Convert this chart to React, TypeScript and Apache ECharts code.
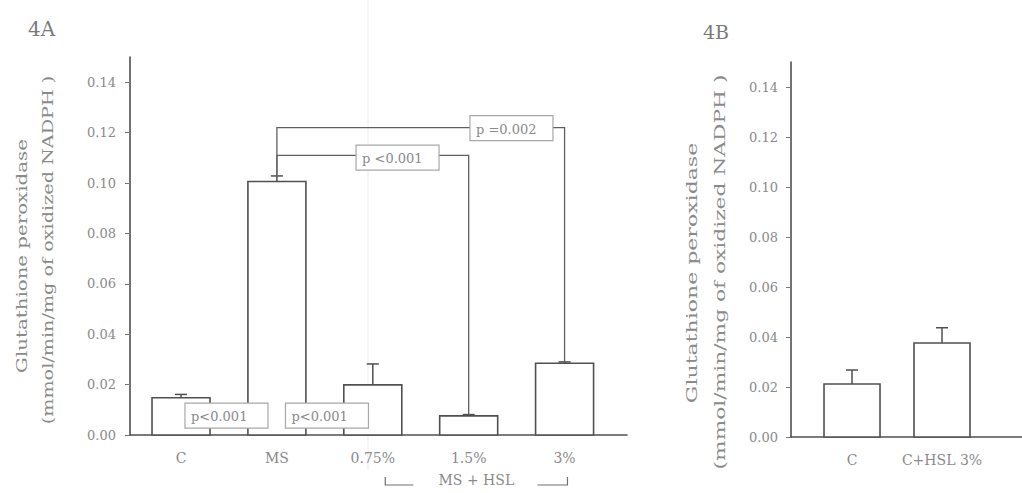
import { useEffect, useRef } from "react";
import * as echarts from "echarts";

// ---------- data ----------
const categoriesA = ["C", "MS", "0.75%", "1.5%", "3%"];
const meansA = [0.0148, 0.1006, 0.0199, 0.0076, 0.0285];
const errorsA = [0.0013, 0.0022, 0.0083, 0.0005, 0.0005];

const categoriesB = ["C", "C+HSL 3%"];
const meansB = [0.0212, 0.0376];
const errorsB = [0.0056, 0.0061];

const yTicks = [0, 0.02, 0.04, 0.06, 0.08, 0.1, 0.12, 0.14];
const yMax = 0.15;

const groupLabel = "MS + HSL";
const groupSpan = [2.13, 4.03];

// significance brackets (category index from -> to, bracket level)
const bracketFrom = [1, 1];
const bracketTo = [4, 3];
const bracketLevel = [0.122, 0.111];

// p-value boxes (centre in data space)
const pTexts = ["p =0.002", "p <0.001", "p<0.001", "p<0.001"];
const pX = [3.446, 2.258, 0.474, 1.522];
const pY = [0.1218, 0.1101, 0.0077, 0.0077];

const yName1 = "Glutathione peroxidase";
const yName2 = "(mmol/min/mg of oxidized NADPH )";

// ---------- style ----------
const FONT = "DejaVu Serif";
const LINE = "#505050";
const TEXT = "#8a8a8a";

function barRender(width: number) {
  return (_p: any, api: any) => {
    const x = api.value(0);
    const v = api.value(1);
    const e = api.value(2);
    const base = api.coord([x, 0]);
    const top = api.coord([x, v]);
    const et = api.coord([x, v + e]);
    const cap = 12;
    return {
      type: "group",
      children: [
        {
          type: "rect",
          shape: { x: base[0] - width / 2, y: top[1], width, height: base[1] - top[1] },
          style: { fill: "#ffffff", stroke: LINE, lineWidth: 1.6 },
        },
        {
          type: "line",
          shape: { x1: top[0], y1: top[1], x2: et[0], y2: et[1] },
          style: { stroke: LINE, lineWidth: 1.5 },
        },
        {
          type: "line",
          shape: { x1: et[0] - cap / 2, y1: et[1], x2: et[0] + cap / 2, y2: et[1] },
          style: { stroke: LINE, lineWidth: 1.5 },
        },
      ],
    };
  };
}

function yAxisCommon(gridIndex: number, margin: number) {
  return {
    type: "value" as const,
    gridIndex,
    min: 0,
    max: yMax,
    axisLine: { show: true, onZero: false, lineStyle: { color: LINE, width: 1.6 } },
    axisTick: { show: true, length: 5, customValues: yTicks, lineStyle: { color: "#777", width: 1 } },
    axisLabel: {
      customValues: yTicks,
      formatter: (v: number) => v.toFixed(2),
      color: TEXT,
      fontFamily: FONT,
      fontSize: 13,
      margin,
    },
    splitLine: { show: false },
  };
}

function xAxisCommon(gridIndex: number, min: number, max: number, cats: string[]) {
  return {
    type: "value" as const,
    gridIndex,
    min,
    max,
    axisLine: { show: true, onZero: false, lineStyle: { color: LINE, width: 1.6 } },
    axisTick: { show: false },
    splitLine: { show: false },
    axisLabel: {
      customValues: cats.map((_, i) => i),
      formatter: (v: number) => cats[Math.round(v)] ?? "",
      color: TEXT,
      fontFamily: FONT,
      fontSize: 14,
      margin: 16,
    },
  };
}

function rotatedLabel(text: string, x: number, y: number, scale: number) {
  return {
    type: "text",
    x,
    y,
    rotation: Math.PI / 2,
    scaleX: scale,
    style: {
      text,
      fill: TEXT,
      font: `15px "${FONT}"`,
      textAlign: "center",
      textVerticalAlign: "middle",
      align: "center",
      verticalAlign: "middle",
    },
  };
}

export default function App() {
  const ref = useRef<HTMLDivElement>(null);

  useEffect(() => {
    document.body.style.margin = "0";
    const chart = echarts.init(ref.current!, undefined, { renderer: "svg" });

    const option: any = {
      animation: false,
      backgroundColor: "#ffffff",
      grid: [
        { left: 130, top: 57, width: 497, height: 378 },
        { left: 791, top: 62, width: 231, height: 375 },
      ],
      xAxis: [
        xAxisCommon(0, -0.532, 4.651, categoriesA),
        xAxisCommon(1, -0.678, 1.889, categoriesB),
      ],
      yAxis: [yAxisCommon(0, 14), yAxisCommon(1, 13)],
      series: [
        {
          type: "custom",
          name: "Panel A",
          xAxisIndex: 0,
          yAxisIndex: 0,
          z: 2,
          renderItem: barRender(58),
          data: meansA.map((m, i) => [i, m, errorsA[i]]),
        },
        {
          type: "custom",
          name: "Panel B",
          xAxisIndex: 1,
          yAxisIndex: 1,
          z: 2,
          renderItem: barRender(56),
          data: meansB.map((m, i) => [i, m, errorsB[i]]),
        },
        {
          type: "custom",
          name: "Brackets",
          xAxisIndex: 0,
          yAxisIndex: 0,
          z: 3,
          encode: { x: [0, 1], y: [2, 3, 4] },
          renderItem: (_p: any, api: any) => {
            const f = api.value(0);
            const t = api.value(1);
            const lvl = api.value(2);
            const ft = api.value(3);
            const tt = api.value(4);
            const p1 = api.coord([f, ft]);
            const p2 = api.coord([f, lvl]);
            const p3 = api.coord([t, lvl]);
            const p4 = api.coord([t, tt]);
            return {
              type: "polyline",
              shape: { points: [p1, p2, p3, p4] },
              style: { stroke: "#606060", lineWidth: 1.3, fill: "none" },
            };
          },
          data: bracketFrom.map((f, i) => [
            f,
            bracketTo[i],
            bracketLevel[i],
            meansA[f] + errorsA[f],
            meansA[bracketTo[i]] + errorsA[bracketTo[i]],
          ]),
        },
        {
          type: "custom",
          name: "P values",
          xAxisIndex: 0,
          yAxisIndex: 0,
          z: 4,
          renderItem: (params: any, api: any) => {
            const c = api.coord([api.value(0), api.value(1)]);
            const w = 83;
            const h = 25;
            const txt = pTexts[params.dataIndex];
            return {
              type: "group",
              children: [
                {
                  type: "rect",
                  shape: { x: c[0] - w / 2, y: c[1] - h / 2, width: w, height: h },
                  style: { fill: "#ffffff", stroke: "#a8a8a8", lineWidth: 1.2 },
                },
                {
                  type: "text",
                  x: c[0] - w / 2 + 6,
                  y: c[1] + 1,
                  style: {
                    text: txt,
                    fill: TEXT,
                    font: `13px "${FONT}"`,
                    align: "left",
                    verticalAlign: "middle",
                    textAlign: "left",
                    textVerticalAlign: "middle",
                  },
                },
              ],
            };
          },
          data: pX.map((x, i) => [x, pY[i]]),
        },
        {
          type: "custom",
          name: "Group",
          xAxisIndex: 0,
          yAxisIndex: 0,
          z: 3,
          encode: { x: [0, 1], y: 2 },
          renderItem: (_p: any, api: any) => {
            const a = api.coord([api.value(0), 0]);
            const b = api.coord([api.value(1), 0]);
            const y0 = a[1] + 42;
            const y1 = a[1] + 50;
            const mid = (a[0] + b[0]) / 2;
            return {
              type: "group",
              children: [
                {
                  type: "polyline",
                  shape: { points: [[a[0], y0], [a[0], y1], [a[0] + 28, y1]] },
                  style: { stroke: "#707070", lineWidth: 1.2, fill: "none" },
                },
                {
                  type: "polyline",
                  shape: { points: [[b[0] - 30, y1], [b[0], y1], [b[0], y0]] },
                  style: { stroke: "#707070", lineWidth: 1.2, fill: "none" },
                },
                {
                  type: "text",
                  x: mid,
                  y: a[1] + 45,
                  style: {
                    text: groupLabel,
                    fill: TEXT,
                    font: `14px "${FONT}"`,
                    align: "center",
                    verticalAlign: "middle",
                    textAlign: "center",
                    textVerticalAlign: "middle",
                  },
                },
              ],
            };
          },
          data: [[groupSpan[0], groupSpan[1], 0]],
        },
      ],
      graphic: [
        {
          type: "line",
          z: 0,
          silent: true,
          shape: { x1: 368, y1: 0, x2: 368, y2: 470 },
          style: { stroke: "#ececec", lineWidth: 1 },
        },
        {
          type: "text",
          left: 28,
          top: 19,
          style: { text: "4A", fill: "#7a7a7a", font: `20px "${FONT}"` },
        },
        {
          type: "text",
          left: 703,
          top: 22,
          style: { text: "4B", fill: "#7a7a7a", font: `19px "${FONT}"` },
        },
        rotatedLabel(yName1, 22, 256, 1.32),
        rotatedLabel(yName2, 48, 250, 1.28),
        rotatedLabel(yName1, 692, 273, 1.47),
        rotatedLabel(yName2, 720, 272, 1.45),
      ],
    };

    chart.setOption(option);
    return () => chart.dispose();
  }, []);

  return (
    <div
      ref={ref}
      style={{ position: "absolute", left: 0, top: 0, width: 1022, height: 493 }}
    />
  );
}
